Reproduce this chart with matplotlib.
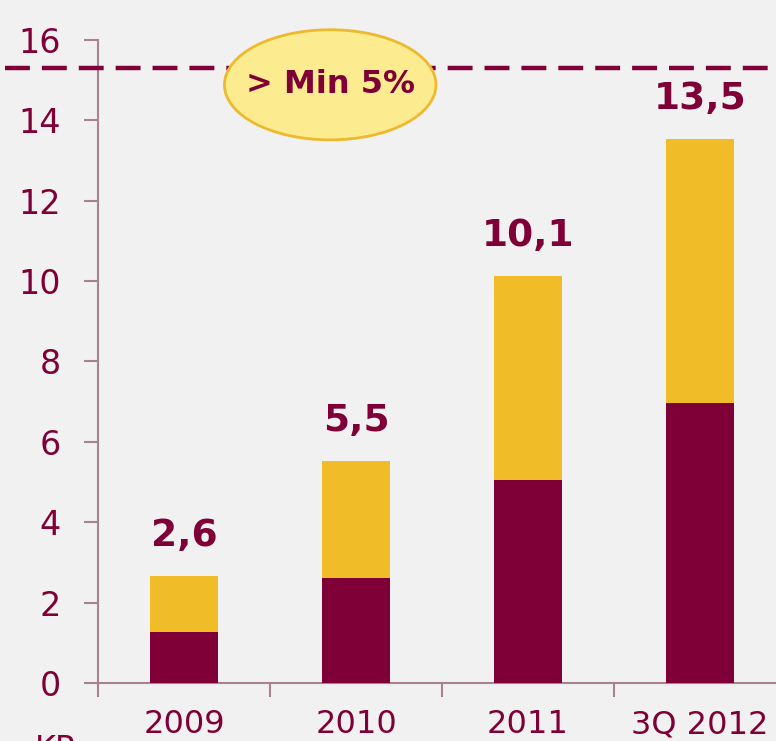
import numpy as np
import matplotlib.pyplot as plt
from matplotlib.patches import Ellipse
import matplotlib.transforms as mtransforms

# Datos
categories = ['2009', '2010', '2011', '3Q 2012']
bottom_vals = [1.27, 2.6, 5.05, 6.97]
totals = [2.65, 5.52, 10.12, 13.52]
total_labels = ['2,6', '5,5', '10,1', '13,5']
min_level = 15.3
y_ticks = [0, 2, 4, 6, 8, 10, 12, 14, 16]

maroon = '#7F0037'
gold = '#F0BC28'
spine_col = '#A8828F'
bg = '#F1F1F1'

top_vals = [t - b for t, b in zip(totals, bottom_vals)]

fig = plt.figure(figsize=(7.76, 7.41), dpi=100, facecolor=bg)
ax = fig.add_axes([0.1263, 0.0783, 0.8866, 0.868])
ax.set_facecolor(bg)

x = np.arange(len(categories))
ax.bar(x, bottom_vals, width=0.4, color=maroon, zorder=3)
ax.bar(x, top_vals, width=0.4, bottom=bottom_vals, color=gold, zorder=3)

for xi, t, lab in zip(x, totals, total_labels):
    ax.annotate(lab, (xi, t), xytext=(0, 29), textcoords='offset points',
                ha='center', va='center', fontsize=27, fontweight='bold',
                color=maroon)

ax.set_xlim(-0.5, 3.5)
ax.set_ylim(0, 16)
ax.set_yticks(y_ticks)
ax.set_xticks([-0.5, 0.5, 1.5, 2.5, 3.5])
ax.set_xticklabels([])
ax.set_xticks(x, minor=True)
ax.set_xticklabels(categories, minor=True)
ax.tick_params(axis='x', which='minor', length=0, pad=19, labelsize=23,
               labelcolor=maroon)
ax.tick_params(axis='x', which='major', length=10, color=spine_col, width=1.5)
ax.tick_params(axis='y', length=10, color=spine_col, width=1.5, labelsize=24,
               labelcolor=maroon, pad=17)

for s in ['top', 'right']:
    ax.spines[s].set_visible(False)
for s in ['left', 'bottom']:
    ax.spines[s].set_color(spine_col)
    ax.spines[s].set_linewidth(1.5)

# Linea de minimo
trans = mtransforms.blended_transform_factory(ax.transAxes, ax.transData)
ax.plot([-0.135, 1.0], [min_level, min_level], transform=trans, color=maroon,
        lw=3.2, dashes=(5.6, 2.7), clip_on=False, zorder=4)

# Globo
el = Ellipse((0.85, 14.88), 1.23, 2.74, facecolor='#FDEB8F', edgecolor='#EDB92E',
             lw=2, zorder=5, clip_on=False)
ax.add_patch(el)
ax.text(0.85, 14.88, '> Min 5%', ha='center', va='center', fontsize=23,
        fontweight='bold', color=maroon, zorder=6)

fig.text(0.045, -0.012, 'KP', fontsize=23, color=maroon, va='center')

plt.savefig('out.png', dpi=100, facecolor=bg)
